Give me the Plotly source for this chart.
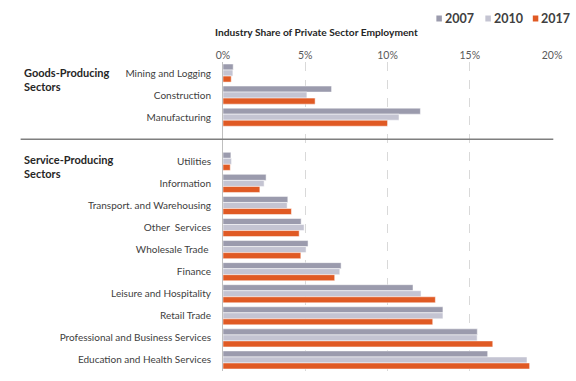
import plotly.graph_objects as go

categories = ["Mining and Logging", "Construction", "Manufacturing", "",
              "Utilities", "Information", "Transport. and Warehousing", "Other\u00a0 Services",
              "Wholesale Trade\u00a0", "Finance", "Leisure and Hospitality", "Retail Trade",
              "Professional and Business Services", "Education and Health Services"]
v2007 = [0.62, 6.6, 12.0, None, 0.48, 2.62, 3.94, 4.75, 5.17, 7.18, 11.55, 13.37, 15.46, 16.09]
v2010 = [0.6, 5.1, 10.7, None, 0.52, 2.5, 3.9, 4.93, 5.05, 7.1, 12.04, 13.37, 15.45, 18.48]
v2017 = [0.5, 5.6, 10.0, None, 0.44, 2.24, 4.16, 4.63, 4.73, 6.79, 12.91, 12.75, 16.4, 18.64]
years = ["2007", "2010", "2017"]
colors = ["#9B9BAD", "#C4C4D2", "#E05A24"]
x_ticks = [0, 5, 10, 15, 20]
x_ticklabels = ["0%", "5%", "10%", "15%", "20%"]

pos = list(range(len(categories)))
font = "Lato, 'Open Sans', sans-serif"

W, H = 576, 381
ML, MR, MT, MB = 222.5, 24.3, 62, 10
PW, PH = W - ML - MR, H - MT - MB


def px_x(p):
    return (p - ML) / PW


def px_y(p):
    return 1 + (MT - p) / PH


fig = go.Figure()
for name, vals, c in zip(years, [v2007, v2010, v2017], colors):
    fig.add_trace(go.Bar(x=vals, y=pos, orientation="h", name=name, showlegend=False,
                         marker=dict(color=c, line=dict(color="white", width=0.5))))

fig.update_layout(
    width=W, height=H,
    margin=dict(l=ML, r=MR, t=MT, b=MB, autoexpand=False),
    barmode="group", bargap=0.18, bargroupgap=0,
    plot_bgcolor="white", paper_bgcolor="white",
    font=dict(family=font, size=10, color="#404040"),
    xaxis=dict(side="top", range=[0, 20], tickvals=x_ticks, ticktext=x_ticklabels,
               showgrid=True, gridcolor="#D9D9D9", griddash="dash", gridwidth=1,
               zeroline=False, showline=False, tickfont=dict(size=10.5, color="#595959"),
               ticks="", automargin=False, fixedrange=True),
    yaxis=dict(range=[len(categories) - 0.5, -0.5], tickvals=pos, ticktext=categories,
               showline=True, linecolor="#BFBFBF", linewidth=1, showgrid=False,
               zeroline=False, ticks="", ticklabelstandoff=9, automargin=False,
               tickfont=dict(size=10, color="#404040")),
)

# legend drawn as colored squares + bold year labels
legend_sq_px = [436, 485, 532.5]
for name, c, sx in zip(years, colors, legend_sq_px):
    fig.add_shape(type="rect", xref="paper", yref="paper",
                  x0=px_x(sx), x1=px_x(sx + 5.5), y0=px_y(21.5), y1=px_y(15.5),
                  fillcolor=c, line=dict(width=0))
    fig.add_annotation(text="<b>" + name + "</b>", xref="paper", yref="paper",
                       x=px_x(sx + 6.5), y=px_y(18.5), xanchor="left", yanchor="middle",
                       showarrow=False, font=dict(size=12.5, color="#404040"))

fig.add_annotation(text="<b>Industry Share of Private Sector Employment</b>", xref="paper", yref="paper",
                   x=px_x(212), y=px_y(31.5), xanchor="left", yanchor="middle", showarrow=False,
                   font=dict(size=10.2, color="#262626"))
fig.add_annotation(text="<b>Goods-Producing<br>Sectors</b>", xref="paper", yref="y",
                   x=px_x(21), y=0.3, xanchor="left", yanchor="middle", align="left", showarrow=False,
                   font=dict(size=11, color="#262626"))
fig.add_annotation(text="<b>Service-Producing<br>Sectors</b>", xref="paper", yref="y",
                   x=px_x(21), y=4.22, xanchor="left", yanchor="middle", align="left", showarrow=False,
                   font=dict(size=11, color="#262626"))
fig.add_shape(type="line", xref="paper", yref="y", x0=px_x(20), x1=px_x(553), y0=3, y1=3,
              line=dict(color="#7F7F7F", width=1.5))

fig.write_html("out.html", config={"displayModeBar": False},
               post_script="document.body.style.margin='0';document.body.style.padding='0';"
                           "document.body.style.overflow='hidden';")
